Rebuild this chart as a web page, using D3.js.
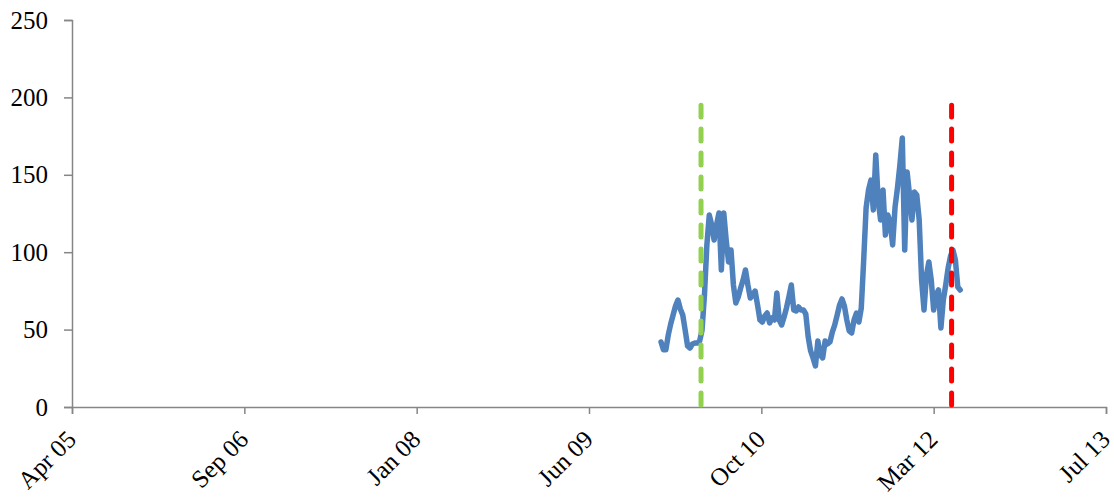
<!DOCTYPE html>
<html>
<head>
<meta charset="utf-8">
<script src="https://cdn.jsdelivr.net/npm/d3@7"></script>
<style>
  body { margin: 0; background: #fff; }
  text { font-family: "Liberation Serif", "DejaVu Serif", serif; }
</style>
</head>
<body>
<div id="chart"></div>
<script>
// axis setup (Excel style date axis, 500-day major unit)
const axisStart = "2005-04-28";
const axisStepDays = 500;
const axisSteps = 6;
const yTicks = [0, 50, 100, 150, 200, 250];

// weekly series, first observation and values
const seriesStart = "2010-01-01";
const seriesValues = [
  42, 37, 37, 46.5, 53.6, 59.4, 65.2, 69.1, 63.3, 59.4,
  49.7, 39.4, 38.1, 40.7, 41.3, 41.3, 42.6, 49.7, 72.4, 104.7,
  124, 117.6, 107.9, 117.6, 125.3, 88.5, 125.3, 107.9, 93.7, 101.4,
  78.8, 67.2, 71.1, 76.9, 82, 88.5, 78.8, 70.4, 72.4, 74.9,
  65.9, 56.2, 54.9, 58.8, 60.7, 54.3, 57.5, 56.2, 73.6, 56.2,
  53, 58.1, 64, 71.1, 78.8, 62.7, 62, 64.6, 62.7, 62.7,
  60.1, 45.2, 36.2, 31.7, 26.5, 42.6, 33.6, 31.7, 42.6, 40.7,
  42, 48.4, 53, 59.4, 65.9, 69.8, 65.2, 56.2, 49.1, 47.8,
  56.2, 60.7, 54.9, 64, 95, 128.6, 140.2, 146.6, 127.3, 162.8,
  133.7, 120.8, 140.2, 111.1, 124, 119.5, 104.7, 129.2, 141.5, 156.3,
  173.8, 101.4, 151.8, 137, 120.8, 138.9, 137, 120.8, 82, 62.7,
  85.3, 93.7, 82, 62.7, 72.4, 75.6, 51, 69.1, 78.8, 89.8,
  97.5, 101.4, 95, 77.5, 75.6
];

// event markers
const eventDates = ["2010-04-27", "2012-04-23"];
const eventTops = [195, 195];
const eventColors = ["#92D050", "#FF0000"];

const W = 1114, H = 497;
const margin = {left: 72, right: 8, top: 20, bottom: 90};
const parse = d3.utcParse("%Y-%m-%d");

const x0 = parse(axisStart);
const xTickDates = d3.range(axisSteps + 1).map(k => d3.utcDay.offset(x0, k * axisStepDays));
const s0 = parse(seriesStart);
const data = seriesValues.map((v, i) => ({date: d3.utcDay.offset(s0, 7 * i), value: v}));

const x = d3.scaleUtc()
  .domain([x0, xTickDates[xTickDates.length - 1]])
  .range([margin.left, W - margin.right]);
const y = d3.scaleLinear()
  .domain([0, 250])
  .range([H - margin.bottom, margin.top]);

const svg = d3.select("#chart").append("svg")
  .attr("width", W)
  .attr("height", H);

// y axis
const gy = svg.append("g")
  .attr("transform", "translate(" + margin.left + ",0)")
  .call(d3.axisLeft(y).tickValues(yTicks).tickSize(8).tickPadding(16));
gy.selectAll("text").style("font-size", "25px").style("fill", "#000");

// x axis
const fmt = d3.utcFormat("%b %y");
const gx = svg.append("g")
  .attr("transform", "translate(0," + (H - margin.bottom) + ")")
  .call(d3.axisBottom(x).tickValues(xTickDates).tickFormat(fmt).tickSize(7));
gx.selectAll("text")
  .style("font-size", "25px")
  .style("fill", "#000")
  .style("text-anchor", "end")
  .attr("dy", null).attr("y", 0)
  .attr("transform", "translate(5,34) rotate(-45)");

svg.selectAll(".domain, .tick line")
  .attr("stroke", "#868686")
  .attr("stroke-width", 1.5);

// series line
svg.append("path")
  .datum(data)
  .attr("fill", "none")
  .attr("stroke", "#4F81BD")
  .attr("stroke-width", 5.5)
  .attr("stroke-linejoin", "round")
  .attr("stroke-linecap", "round")
  .attr("d", d3.line().x(d => x(d.date)).y(d => y(d.value)));

// event lines
svg.selectAll(".event")
  .data(eventDates)
  .enter().append("line")
  .attr("class", "event")
  .attr("x1", d => x(parse(d)))
  .attr("x2", d => x(parse(d)))
  .attr("y1", y(0) - 2)
  .attr("y2", (d, i) => y(eventTops[i]))
  .attr("stroke", (d, i) => eventColors[i])
  .attr("stroke-width", 5)
  .attr("stroke-linecap", "round")
  .attr("stroke-dasharray", "12 12");
</script>
</body>
</html>
